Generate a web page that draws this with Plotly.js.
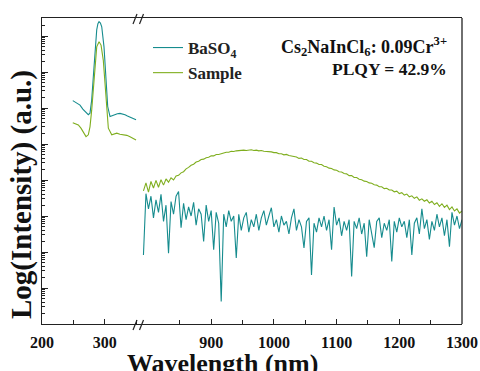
<!DOCTYPE html>
<html>
<head>
<meta charset="utf-8">
<script src="https://cdn.plot.ly/plotly-3.0.1.min.js"></script>
<style>html,body{margin:0;padding:0;background:#fff;}#chart{width:480px;height:371px;}</style>
</head>
<body>
<div id="chart"></div>
<script>
// ---- Data ----
// Excitation region (left segment)
const uvWavelengthBaSO4 = [249,255,260.5,265,268.5,273.7,276.4,279.1,281.7,284.4,287.1,289,290.8,293,295.1,298.7,301.9,304.6,308.3,312,316.2,320,324.2,328,332.2,336,340.1,345,349.7];
const uvBaSO4 = [1.6e6,1.4e6,1.2e6,9.3e5,7.9e5,6.5e5,7.2e5,1.66e6,7.4e6,4.1e7,1.48e8,2.2e8,2.5e8,2.3e8,1.8e8,5.0e7,7.4e6,1.1e6,5.8e5,6.2e5,6.5e5,6.9e5,7.1e5,6.9e5,6.5e5,6.0e5,5.5e5,5.0e5,4.7e5];
const uvWavelengthSample = [249,253,257.8,262,265.8,270.1,273.7,276.4,279.1,281.7,284.4,287.1,290.8,294,297.6,300.3,303,305.6,311,315,319,324,329.5,335,340.1,345,349.7];
const uvSample = [3.9e5,3.7e5,3.4e5,2.75e5,2.2e5,1.6e5,1.8e5,3.0e5,8.7e5,3.9e6,1.74e7,5.0e7,6.9e7,5.6e7,2.1e7,4.9e6,8.7e5,2.75e5,1.8e5,1.9e5,2.0e5,1.86e5,1.8e5,1.74e5,1.6e5,1.45e5,1.3e5];

// Emission region (right segment)
const nirWavelength = [792,796,800,804,808,812,816,820,824,828,832,836,840,844,848,852,856,860,864,868,872,876,880,884,888,892,896,900,904,908,912,916,920,924,928,932,936,940,944,948,952,956,960,964,968,972,976,980,984,988,992,996,1000,1004,1008,1012,1016,1020,1024,1028,1032,1036,1040,1044,1048,1052,1056,1060,1064,1068,1072,1076,1080,1084,1088,1092,1096,1100,1104,1108,1112,1116,1120,1124,1128,1132,1136,1140,1144,1148,1152,1156,1160,1164,1168,1172,1176,1180,1184,1188,1192,1196,1200,1204,1208,1212,1216,1220,1224,1228,1232,1236,1240,1244,1248,1252,1256,1260,1264,1268,1272,1276,1280,1284,1288,1292,1296,1300];
const nirBaSO4 = [83,4170,1580,3550,890,2820,1260,3980,710,2000,93,2510,1120,3550,4790,470,2240,790,1780,1000,2400,560,1580,1120,195,2000,710,1410,115,1260,630,4.2,1120,500,1410,710,1000,68,1120,400,890,1260,355,790,500,1120,400,890,1410,560,1000,1700,500,790,355,1000,560,710,316,890,1580,400,790,500,129,710,890,23,630,355,890,500,1000,400,790,115,1780,560,890,282,710,400,790,21,710,447,890,316,630,74,790,355,132,710,890,251,630,400,790,55,710,355,890,500,710,251,790,83,630,890,316,1580,447,790,224,710,400,1120,500,890,282,790,141,1260,560,1000,447,790];
const nirSample = [5000,8300,4600,9100,6000,9800,6300,10200,7200,10700,8700,11500,10000,12900,13500,15800,17000,20400,22400,25700,27500,31600,33100,37200,38000,41700,42700,46800,46800,51300,51300,55000,56200,58900,58900,63100,61700,64600,66100,64600,67600,66100,67600,69200,66100,67600,64600,66100,63100,63100,60300,60300,57500,57500,53700,53700,50100,51300,47900,46800,43700,43700,39800,40700,37200,37200,33100,33100,30200,29500,26900,26900,24000,23400,21400,20900,19100,18600,17000,16600,15100,14800,13200,13200,11700,11700,10500,10200,9300,9100,8300,8100,7400,7200,6500,6500,5750,5900,5250,5250,4700,4900,4200,4450,3800,4070,3400,3630,3100,3400,2750,3000,2570,2820,2290,2570,2090,2340,1860,2190,1740,2000,1510,1780,1380,1580,1200,1380];

const seriesNames = ['BaSO<sub>4</sub>', 'Sample'];
const leftTicks = [200, 300];
const rightTicks = [900, 1000, 1100, 1200, 1300];
const leftMinorTicks = [250, 350];
const rightMinorTicks = [850, 950, 1050, 1150, 1250];
const xTitle = 'Wavelength (nm)';
const yTitle = 'Log(Intensity) (a.u.)';
const noteLines = ['Cs<sub>2</sub>NaInCl<sub>6</sub>: 0.09Cr<sup>3+</sup>', 'PLQY = 42.9%'];

// ---- Styling ----
const TEAL = '#168c8e';
const GREEN = '#7fae1f';
const SERIF = '"Liberation Serif", serif';
const AX = '#222';

const traces = [
  {x: uvWavelengthBaSO4, y: uvBaSO4, xaxis:'x', yaxis:'y', mode:'lines', name: seriesNames[0], legendgroup:'b',
   line:{color:TEAL, width:1.1}},
  {x: uvWavelengthSample, y: uvSample, xaxis:'x', yaxis:'y', mode:'lines', name: seriesNames[1], legendgroup:'s',
   line:{color:GREEN, width:1.1}},
  {x: nirWavelength, y: nirBaSO4, xaxis:'x2', yaxis:'y', mode:'lines', name: seriesNames[0], legendgroup:'b', showlegend:false,
   line:{color:TEAL, width:1.1}},
  {x: nirWavelength, y: nirSample, xaxis:'x2', yaxis:'y', mode:'lines', name: seriesNames[1], legendgroup:'s', showlegend:false,
   line:{color:GREEN, width:1.1}}
];

const L = 42, R = 462, T = 18, B = 324;
const W = R - L, H = B - T;
const brk = (140 - L) / W;
const px = v => (v - L) / W;
const py = v => (B - v) / H;

const tickFont = {family: SERIF, size: 16, color: '#111', weight: 'bold'};
const xCommon = {
  ticks:'inside', ticklen:5, tickwidth:1, tickcolor:AX,
  showline:true, linecolor:AX, linewidth:1.3, mirror:true,
  showgrid:false, zeroline:false, tickfont: tickFont, anchor:'y',
  ticklabelstandoff: 3
};

const slash = (x0, yc) => ({type:'line', xref:'paper', yref:'paper',
  x0: px(x0), y0: py(yc + 5), x1: px(x0 + 4), y1: py(yc - 5), line:{color:AX, width:1.2}});

const layout = {
  width:480, height:371,
  margin:{l:L, r:480 - R, t:T, b:371 - B, pad:0},
  paper_bgcolor:'#fff', plot_bgcolor:'#fff',
  showlegend:true,
  legend:{x: px(148), y: py(30), xanchor:'left', yanchor:'top', bgcolor:'rgba(0,0,0,0)',
    font:{family:SERIF, size:17, color:'#222', weight:'bold'}, tracegroupgap:0, itemwidth:30},
  xaxis: Object.assign({}, xCommon, {domain:[0, brk], range:[200, 356], tickvals: leftTicks,
    minor:{tickvals: leftMinorTicks, ticks:'inside', ticklen:4, tickcolor:AX}}),
  xaxis2: Object.assign({}, xCommon, {domain:[brk, 1], range:[786.5, 1300], tickvals: rightTicks,
    minor:{tickvals: rightMinorTicks, ticks:'inside', ticklen:4, tickcolor:AX}}),
  yaxis:{type:'log', range:[0, 8.5], anchor:'x', domain:[0,1], dtick:1,
    showticklabels:false, ticks:'inside', ticklen:6, tickwidth:1, tickcolor:AX,
    minor:{ticks:'inside', ticklen:3, tickcolor:AX, dtick:'D1'},
    showline:true, linecolor:AX, linewidth:1.3, showgrid:false, zeroline:false},
  shapes:[
    {type:'line', xref:'paper', yref:'paper', x0:1, x1:1, y0:0, y1:1, line:{color:AX, width:1.3}},
    slash(133, T + 1), slash(139.5, T + 1),
    slash(133, B + 1), slash(139.5, B + 1)
  ],
  annotations:[
    {text: xTitle, xref:'paper', yref:'paper', x: px(222), y: py(347), xanchor:'center', yanchor:'top',
     showarrow:false, font:{family:SERIF, size:26, color:'#111', weight:'bold'}},
    {text: yTitle, xref:'paper', yref:'paper', x: px(22), y: py(195), xanchor:'center', yanchor:'middle',
     textangle:-90, showarrow:false, font:{family:SERIF, size:29, color:'#111', weight:'bold'}},
    {text: noteLines[0], xref:'paper', yref:'paper', x: px(449), y: py(46), xanchor:'right', yanchor:'middle',
     showarrow:false, font:{family:SERIF, size:18, color:'#111', weight:'bold'}},
    {text: noteLines[1], xref:'paper', yref:'paper', x: px(449), y: py(69), xanchor:'right', yanchor:'middle',
     showarrow:false, font:{family:SERIF, size:17.5, color:'#111', weight:'bold'}}
  ]
};

Plotly.newPlot('chart', traces, layout, {displayModeBar:false, staticPlot:true});
</script>
</body>
</html>
